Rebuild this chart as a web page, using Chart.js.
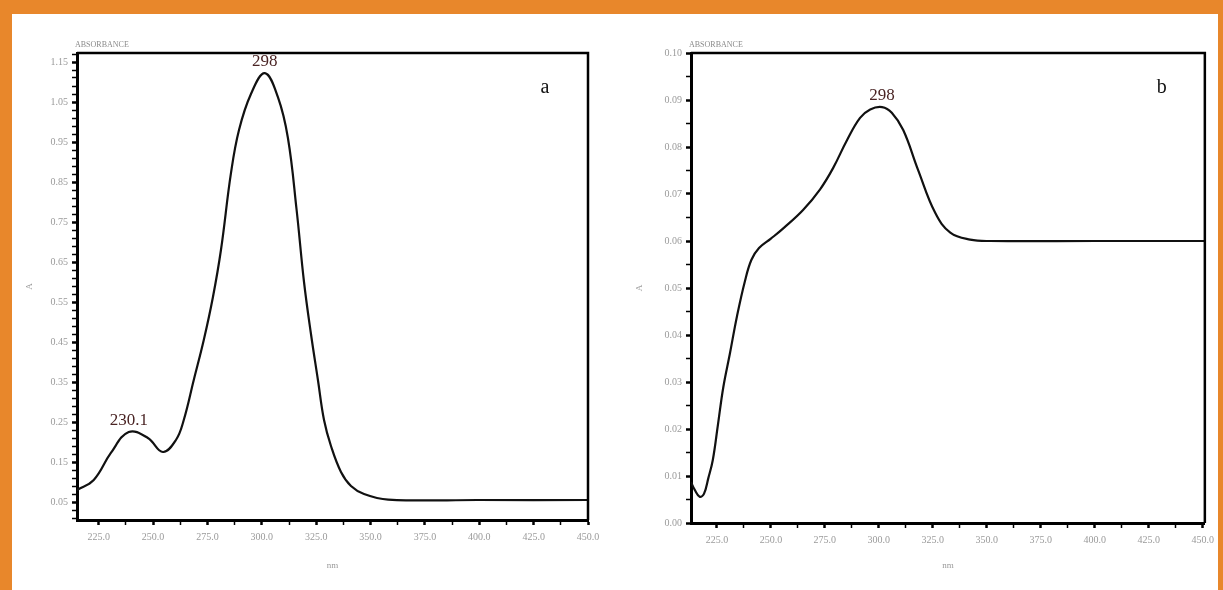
<!DOCTYPE html>
<html>
<head>
<meta charset="utf-8">
<script src="https://cdn.jsdelivr.net/npm/chart.js@4.4.0/dist/chart.umd.min.js"></script>
<style>
  html, body { margin: 0; padding: 0; }
  body { width: 1223px; height: 590px; background: #e8872b; position: relative; overflow: hidden; }
  #sheet { position: absolute; left: 12px; top: 14px; width: 1206px; height: 576px; background: #fff; }
  .box { position: absolute; }
  #boxA { left: 20px; top: 20px; width: 590px; height: 560px; }
  #boxB { left: 630px; top: 20px; width: 590px; height: 560px; }
</style>
</head>
<body>
<div id="sheet"></div>
<div class="box" id="boxA"><canvas id="chartA"></canvas></div>
<div class="box" id="boxB"><canvas id="chartB"></canvas></div>
<script>
// panel a - spectrum (nm, absorbance)
const wavelengthA = [215.0, 222.7, 230.5, 238.8, 247.6, 254.5, 260.5, 264.1, 268.7, 273.3, 277.5, 281.2,
  285.8, 289.5, 295.0, 301.4, 307.4, 312.0, 316.0, 319.4, 322.6, 325.8, 328.6,
  331.8, 336.4, 341.0, 347.0, 358.1, 400.0, 450.0];
const absorbanceA = [0.080, 0.105, 0.172, 0.225, 0.210, 0.175, 0.205, 0.255, 0.355, 0.455, 0.562, 0.680,
  0.872, 0.980, 1.070, 1.122, 1.062, 0.960, 0.780, 0.600, 0.470, 0.355, 0.255,
  0.190, 0.125, 0.090, 0.070, 0.056, 0.055, 0.055];

// panel b - spectrum
const wavelengthB = [213.0, 214.8, 217.0, 219.0, 221.0, 223.1, 225.5, 228.0, 231.0, 234.3, 238.0, 241.0,
  244.5, 250.0, 256.0, 264.9, 272.8, 278.8, 285.3, 291.3, 296.0, 301.5, 306.0, 311.3, 318.2, 326.1,
  333.1, 342.3, 351.6, 400.0, 451.0];
const absorbanceB = [0.0087, 0.0070, 0.0056, 0.0062, 0.0095, 0.0134, 0.0210, 0.0290, 0.0360, 0.0440,
  0.0515, 0.0560, 0.0585, 0.0605, 0.0628, 0.0666, 0.0710, 0.0755, 0.0815, 0.0862, 0.0880, 0.0885,
  0.0873, 0.0836, 0.0751, 0.0660, 0.0618, 0.0603, 0.0600, 0.0600, 0.0600];

// peak annotations
const peakTextA = ["230.1", "298"];
const peakXA = [238.8, 301.4];
const peakYA = [0.225, 1.122];
const peakTextB = ["298"];
const peakXB = [301.5];
const peakYB = [0.0885];

// tick labels
const xTickLabels = [225, 250, 275, 300, 325, 350, 375, 400, 425, 450];
const yTickLabelsA = [0.05, 0.15, 0.25, 0.35, 0.45, 0.55, 0.65, 0.75, 0.85, 0.95, 1.05, 1.15];
const yTickLabelsB = [0.00, 0.01, 0.02, 0.03, 0.04, 0.05, 0.06, 0.07, 0.08, 0.09, 0.10];

const tickGrey = "#9a9a9a";
const inkColor = "#4a2424";

// builds major + minor tick list (minor ones get no label)
function tickList(majors, minorStep, min, max, digits) {
  const out = [];
  const first = majors[0];
  const k0 = Math.ceil((min - first) / minorStep - 1e-9);
  const k1 = Math.floor((max - first) / minorStep + 1e-9);
  for (let k = k0; k <= k1; k++) {
    const v = Math.round((first + k * minorStep) * 10000) / 10000;
    const isMajor = majors.some((m) => Math.abs(m - v) < 1e-6);
    out.push({ value: v, lbl: isMajor ? v.toFixed(digits) : "" });
  }
  return out;
}

const framePlugin = {
  id: "frame",
  afterDraw(chart, args, opts) {
    const { ctx, chartArea: a, scales } = chart;
    ctx.save();
    ctx.strokeStyle = "#000";
    ctx.lineWidth = 2.5;
    ctx.beginPath();
    ctx.moveTo(a.left, a.top);
    ctx.lineTo(a.right, a.top);
    ctx.lineTo(a.right, a.bottom);
    ctx.stroke();

    // header over the y axis
    ctx.fillStyle = "#8a8a8a";
    ctx.font = "8px 'Liberation Serif'";
    ctx.textAlign = "left";
    ctx.textBaseline = "alphabetic";
    ctx.fillText("ABSORBANCE", a.left - 2, a.top - 6);

    // panel letter
    ctx.fillStyle = "#111";
    ctx.font = "20px 'Liberation Serif'";
    ctx.textAlign = "center";
    ctx.fillText(opts.letter, a.right - 43, a.top + 40);

    // peak labels
    ctx.fillStyle = inkColor;
    ctx.font = "17px 'Liberation Serif'";
    ctx.textBaseline = "bottom";
    opts.text.forEach((t, i) => {
      const px = scales.x.getPixelForValue(opts.xs[i]);
      const py = scales.y.getPixelForValue(opts.ys[i]);
      ctx.fillText(t, px, py - 3);
    });
    ctx.restore();
  },
};

function makeChart(id, xs, ys, cfg) {
  const pts = xs.map((x, i) => ({ x: x, y: ys[i] }));
  return new Chart(document.getElementById(id), {
    type: "line",
    data: {
      datasets: [{
        data: pts,
        borderColor: "#111",
        borderWidth: 2.2,
        pointRadius: 0,
        tension: 0.4,
        fill: false,
      }],
    },
    options: {
      responsive: true,
      maintainAspectRatio: false,
      animation: false,
      layout: { padding: cfg.padding },
      plugins: {
        legend: { display: false },
        tooltip: { enabled: false },
        frame: cfg.frame,
      },
      scales: {
        x: {
          type: "linear",
          min: cfg.xMin,
          max: cfg.xMax,
          afterBuildTicks: (s) => { s.ticks = tickList(xTickLabels, 12.5, cfg.xMin, cfg.xMax, 1); },
          afterFit: (s) => { s.height = cfg.xAxisH; },
          ticks: {
            autoSkip: false,
            maxRotation: 0,
            color: tickGrey,
            font: { family: "Liberation Serif", size: 10 },
            padding: 6,
            callback: (v, i, t) => t[i].lbl,
          },
          grid: {
            drawOnChartArea: false,
            tickLength: 5,
            color: "#000",
            tickWidth: (c) => (c.tick && c.tick.lbl ? 2.5 : 1.5),
          },
          border: { color: "#000", width: 3 },
          title: {
            display: true,
            text: "nm",
            color: tickGrey,
            font: { family: "Liberation Serif", size: 9 },
            padding: { top: 10 },
          },
        },
        y: {
          type: "linear",
          min: cfg.yMin,
          max: cfg.yMax,
          afterBuildTicks: (s) => { s.ticks = tickList(cfg.yLabels, cfg.yMinor, cfg.yMin, cfg.yMax, 2); },
          afterFit: (s) => { s.width = cfg.yAxisW; },
          ticks: {
            autoSkip: false,
            color: tickGrey,
            font: { family: "Liberation Serif", size: 10 },
            padding: 4,
            callback: (v, i, t) => t[i].lbl,
          },
          grid: {
            drawOnChartArea: false,
            tickLength: 5,
            color: "#000",
            tickWidth: (c) => (c.tick && c.tick.lbl ? 2.5 : 1.5),
          },
          border: { color: "#000", width: 3 },
          title: {
            display: true,
            text: "A",
            color: tickGrey,
            font: { family: "Liberation Serif", size: 9 },
            padding: { bottom: 2 },
          },
        },
      },
    },
    plugins: [framePlugin],
  });
}

makeChart("chartA", wavelengthA, absorbanceA, {
  padding: { top: 33, right: 22, bottom: 5, left: 0 },
  xMin: 215, xMax: 450, xAxisH: 55, yAxisW: 57,
  yMin: 0.005, yMax: 1.1725, yLabels: yTickLabelsA, yMinor: 0.02,
  frame: { letter: "a", text: peakTextA, xs: peakXA, ys: peakYA },
});

makeChart("chartB", wavelengthB, absorbanceB, {
  padding: { top: 33, right: 15, bottom: 5, left: 0 },
  xMin: 213, xMax: 451, xAxisH: 52, yAxisW: 61,
  yMin: 0, yMax: 0.1, yLabels: yTickLabelsB, yMinor: 0.005,
  frame: { letter: "b", text: peakTextB, xs: peakXB, ys: peakYB },
});
</script>
</body>
</html>
